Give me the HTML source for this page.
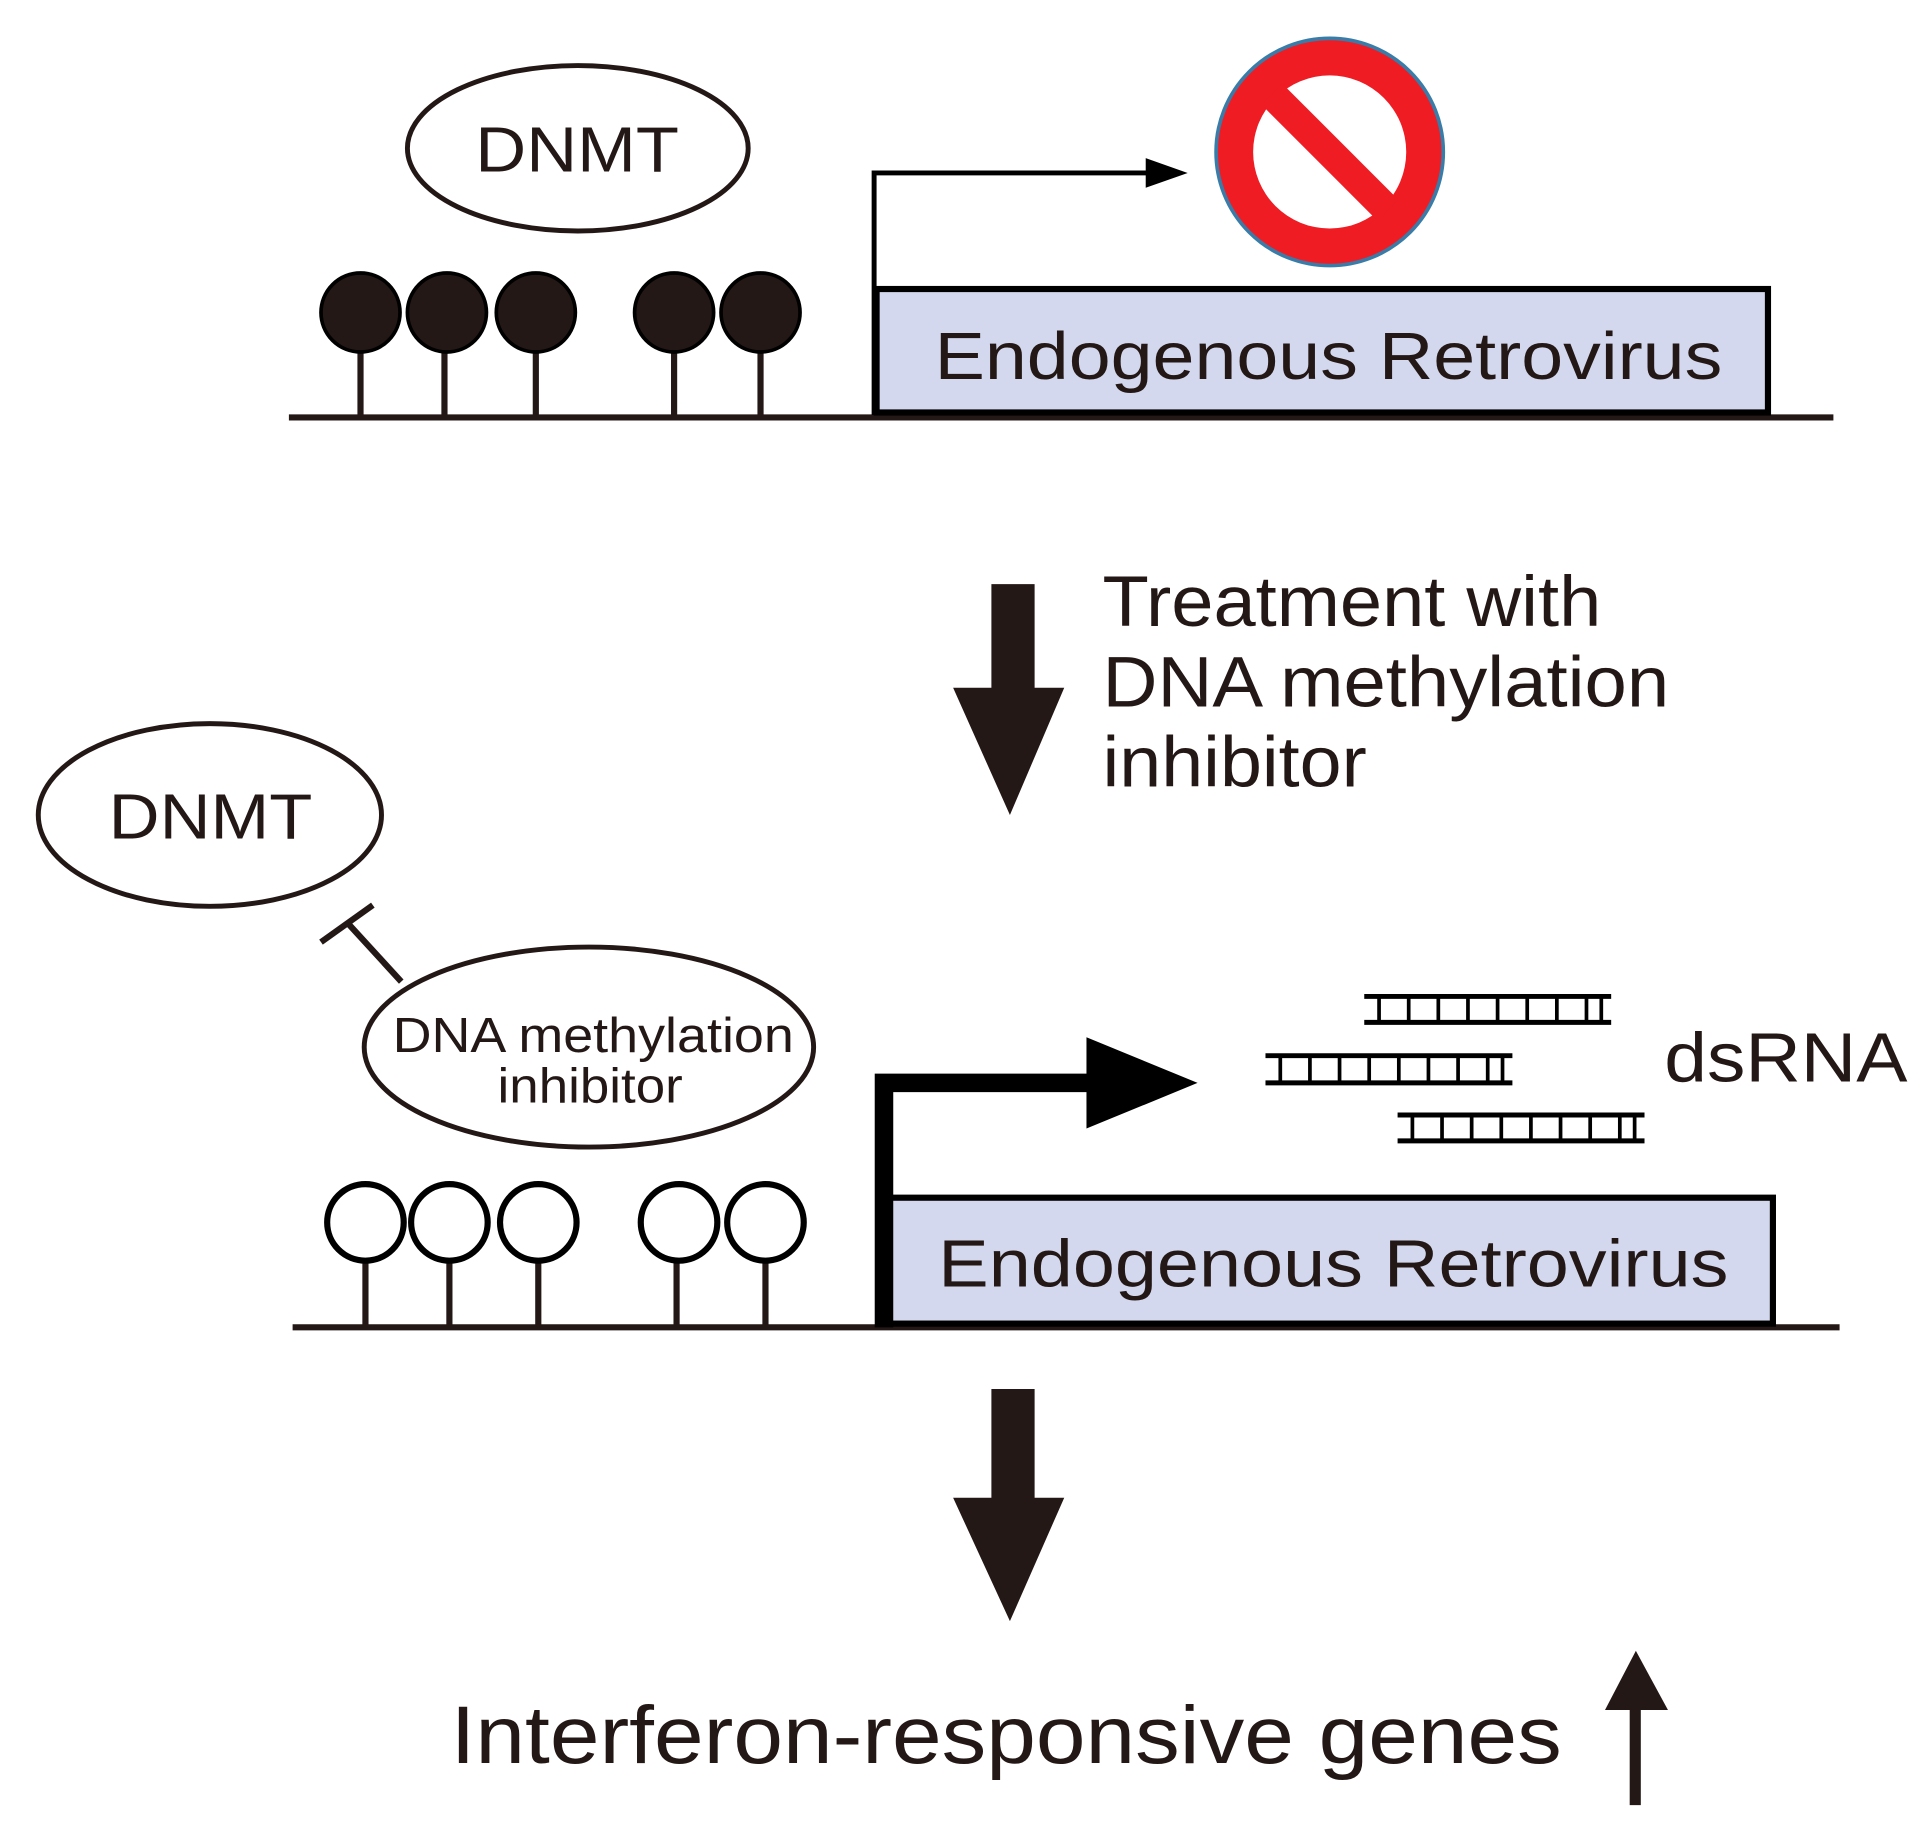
<!DOCTYPE html>
<html><head><style>html,body{margin:0;padding:0;background:#fff}svg{display:block}</style></head>
<body>
<svg width="1926" height="1825" viewBox="0 0 1560 1478" xmlns="http://www.w3.org/2000/svg" font-family="Liberation Sans, sans-serif" fill="#231815">
<!-- TOP -->
<ellipse cx="468" cy="120" rx="138" ry="67" fill="#fff" stroke="#231815" stroke-width="4"/>
<text x="385" y="139" font-size="52" textLength="165" lengthAdjust="spacingAndGlyphs">DNMT</text>
<line x1="234" y1="338" x2="1485" y2="338" stroke="#231815" stroke-width="5"/>
<g stroke="#231815" stroke-width="5">
<line x1="292" y1="280" x2="292" y2="338"/><line x1="360" y1="280" x2="360" y2="338"/><line x1="434" y1="280" x2="434" y2="338"/><line x1="546" y1="280" x2="546" y2="338"/><line x1="616" y1="280" x2="616" y2="338"/>
</g>
<g fill="#231815" stroke="#000" stroke-width="3">
<circle cx="292" cy="253" r="32"/><circle cx="362" cy="253" r="32"/><circle cx="434" cy="253" r="32"/><circle cx="546" cy="253" r="32"/><circle cx="616" cy="253" r="32"/>
</g>
<rect x="710" y="234" width="722" height="100" fill="#d3d8ee" stroke="#000" stroke-width="5"/>
<text x="757" y="307" font-size="54" textLength="638" lengthAdjust="spacingAndGlyphs">Endogenous Retrovirus</text>
<polyline points="708,336 708,140 945,140" fill="none" stroke="#000" stroke-width="4"/>
<polygon points="928,128 962,140 928,152" fill="#000"/>
<circle cx="1077" cy="123" r="92" fill="#ef1c24" stroke="#3a7ca8" stroke-width="3"/>
<circle cx="1077" cy="123" r="62" fill="#fff"/>
<line x1="1030" y1="76" x2="1124" y2="170" stroke="#ef1c24" stroke-width="24"/>
<!-- ARROW 1 -->
<polygon points="803,473 838,473 838,557 862,557 818,660 772,557 803,557"/>
<text font-size="58"><tspan x="893" y="507" textLength="404" lengthAdjust="spacingAndGlyphs">Treatment with</tspan></text>
<text font-size="58"><tspan x="893" y="572" textLength="459" lengthAdjust="spacingAndGlyphs">DNA methylation</tspan></text>
<text font-size="58"><tspan x="893" y="637" textLength="214" lengthAdjust="spacingAndGlyphs">inhibitor</tspan></text>
<!-- BOTTOM -->
<ellipse cx="170" cy="660" rx="139" ry="74" fill="#fff" stroke="#231815" stroke-width="4"/>
<text x="88" y="679" font-size="52" textLength="165" lengthAdjust="spacingAndGlyphs">DNMT</text>
<line x1="325" y1="795" x2="282" y2="748" stroke="#231815" stroke-width="5"/>
<line x1="260" y1="763" x2="302" y2="733" stroke="#231815" stroke-width="5"/>
<ellipse cx="477" cy="848" rx="182" ry="81" fill="#fff" stroke="#231815" stroke-width="4"/>
<text font-size="40" x="318" y="852" textLength="325" lengthAdjust="spacingAndGlyphs">DNA methylation</text>
<text font-size="40" x="403" y="893" textLength="150" lengthAdjust="spacingAndGlyphs">inhibitor</text>
<line x1="237" y1="1075" x2="1490" y2="1075" stroke="#231815" stroke-width="5"/>
<g stroke="#231815" stroke-width="5">
<line x1="296" y1="1020" x2="296" y2="1075"/><line x1="364" y1="1020" x2="364" y2="1075"/><line x1="436" y1="1020" x2="436" y2="1075"/><line x1="548" y1="1020" x2="548" y2="1075"/><line x1="620" y1="1020" x2="620" y2="1075"/>
</g>
<g fill="#fff" stroke="#000" stroke-width="5">
<circle cx="296" cy="990" r="31"/><circle cx="364" cy="990" r="31"/><circle cx="436" cy="990" r="31"/><circle cx="550" cy="990" r="31"/><circle cx="620" cy="990" r="31"/>
</g>
<rect x="718" y="970" width="718" height="102" fill="#d3d8ee" stroke="#000" stroke-width="5"/>
<text x="760" y="1042" font-size="54" textLength="640" lengthAdjust="spacingAndGlyphs">Endogenous Retrovirus</text>
<polyline points="716,1075 716,877 900,877" fill="none" stroke="#000" stroke-width="15"/>
<polygon points="880,840 970,877 880,914" fill="#000"/>
<g stroke="#000" stroke-width="4">
<line x1="1105" y1="807" x2="1305" y2="807"/><line x1="1105" y1="828" x2="1305" y2="828"/>
<line x1="1025" y1="855" x2="1225" y2="855"/><line x1="1025" y1="877" x2="1225" y2="877"/>
<line x1="1132" y1="903" x2="1332" y2="903"/><line x1="1132" y1="924" x2="1332" y2="924"/>
</g>
<g stroke="#000" stroke-width="3">
<path d="M1117 807v21M1141 807v21M1165 807v21M1189 807v21M1213 807v21M1237 807v21M1261 807v21M1285 807v21M1297 807v21"/>
<path d="M1037 855v22M1061 855v22M1085 855v22M1109 855v22M1133 855v22M1157 855v22M1181 855v22M1205 855v22M1217 855v22"/>
<path d="M1144 903v21M1168 903v21M1192 903v21M1216 903v21M1240 903v21M1264 903v21M1288 903v21M1312 903v21M1324 903v21"/>
</g>
<text x="1348" y="876" font-size="56" textLength="197" lengthAdjust="spacingAndGlyphs">dsRNA</text>
<!-- ARROW 2 -->
<polygon points="803,1125 838,1125 838,1213 862,1213 818,1313 772,1213 803,1213"/>
<text x="365" y="1428" font-size="66" textLength="900" lengthAdjust="spacingAndGlyphs">Interferon-responsive genes</text>
<rect x="1320" y="1375" width="9" height="87"/>
<polygon points="1300,1385 1325,1337 1351,1385"/>
</svg>
</body></html>
